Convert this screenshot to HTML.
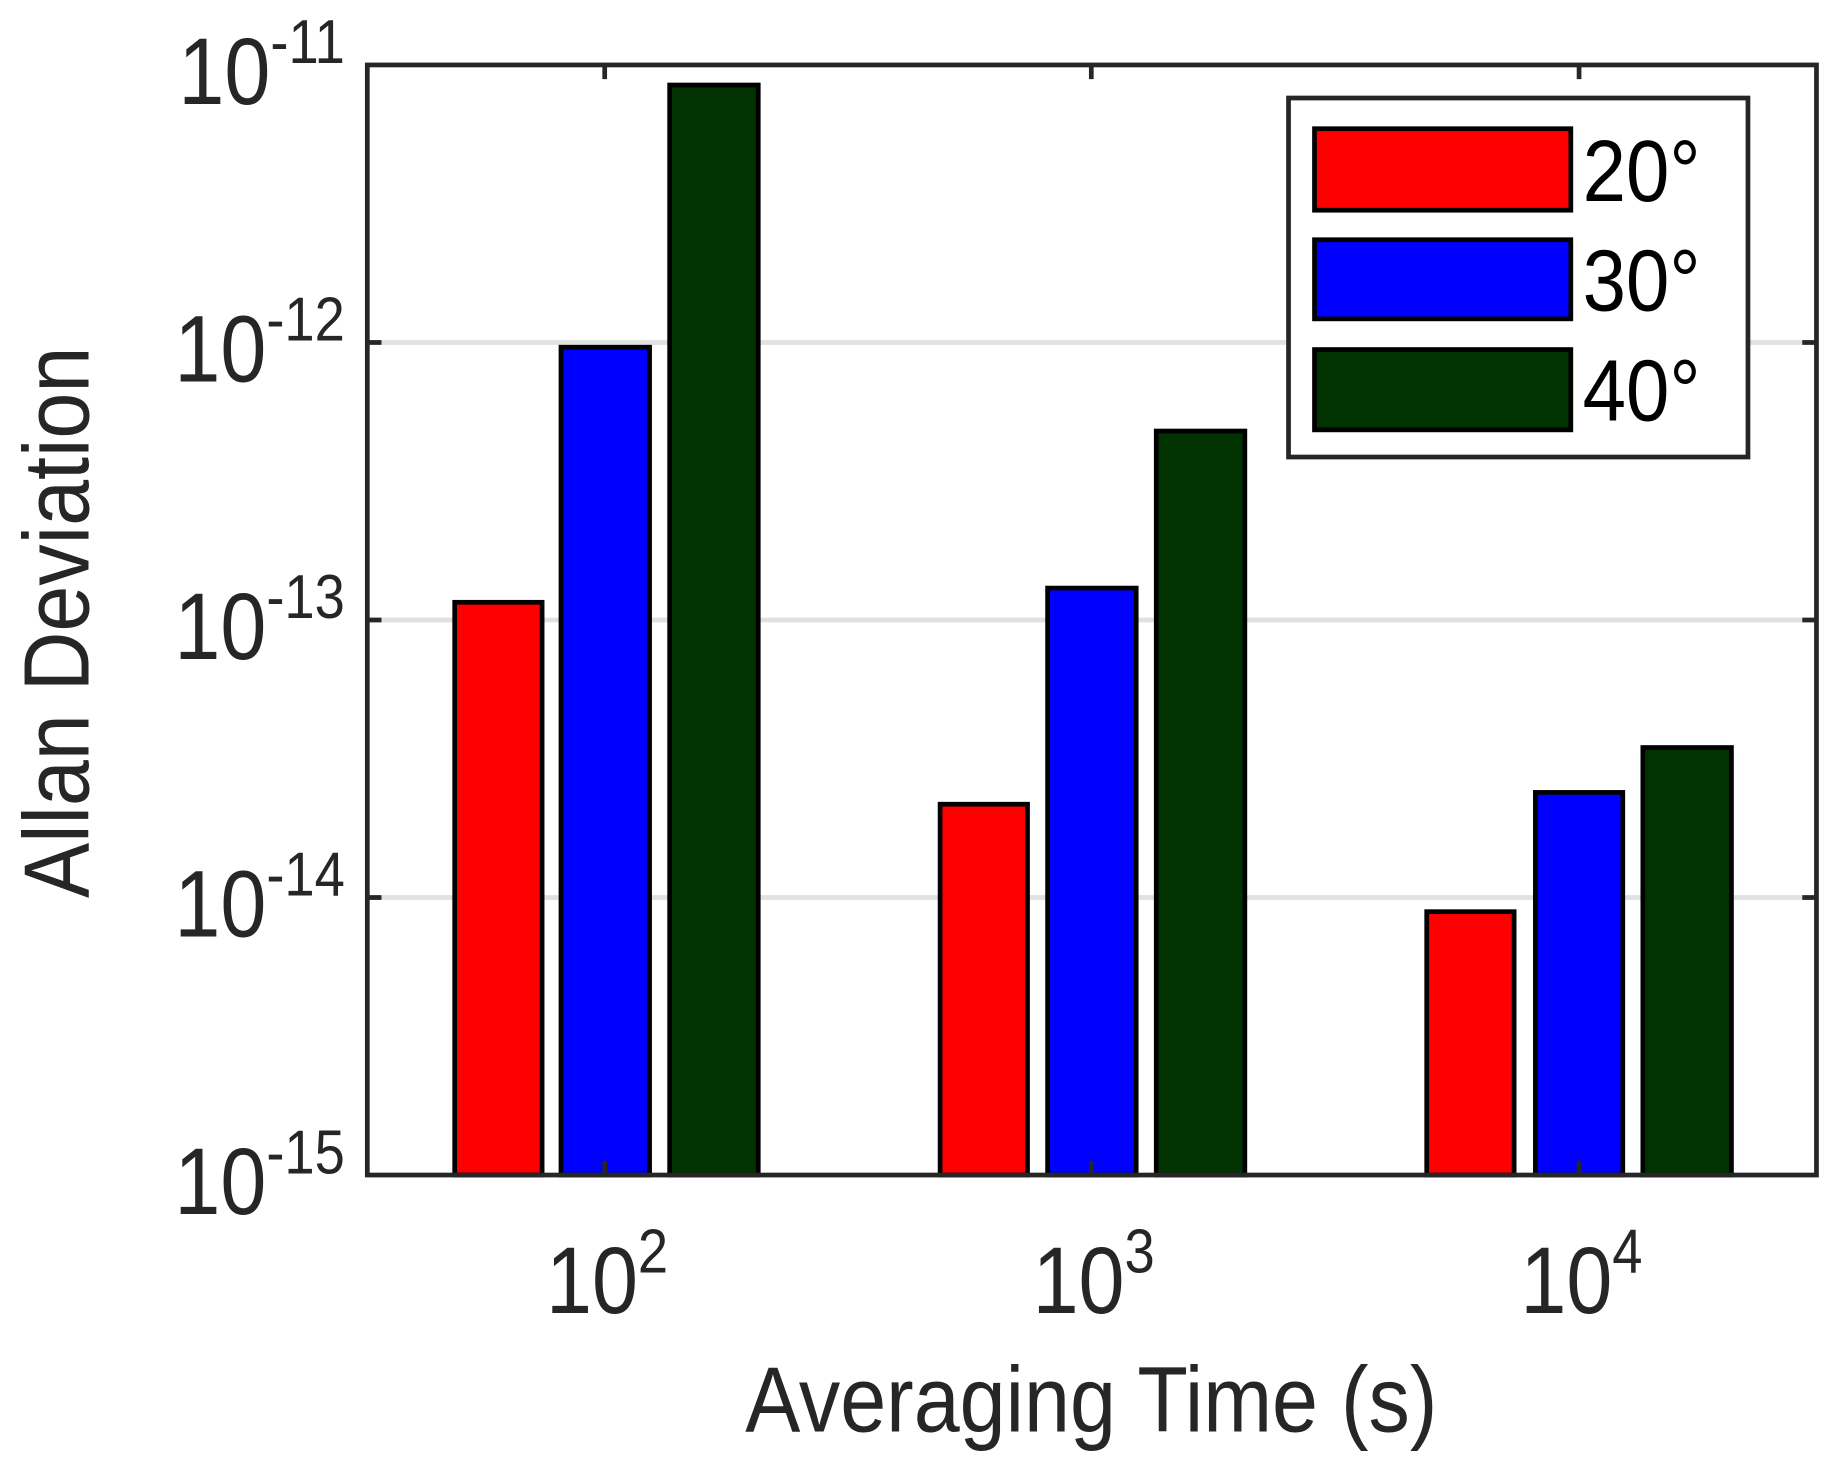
<!DOCTYPE html>
<html><head><style>html,body{margin:0;padding:0;background:#fff}svg{display:block}</style></head>
<body>
<svg width="1833" height="1462" viewBox="0 0 1552 1238" preserveAspectRatio="none" xmlns="http://www.w3.org/2000/svg" font-family="Liberation Sans, Arial, sans-serif" fill="#262626">
<rect width="1552" height="1238" fill="#fff"/>
<g stroke="#e0e0e0" stroke-width="4">
<line x1="311" y1="290" x2="1538" y2="290"/>
<line x1="311" y1="525" x2="1538" y2="525"/>
<line x1="311" y1="760" x2="1538" y2="760"/>
</g>
<g stroke="#000" stroke-width="4">
<rect x="385" y="510" width="74" height="485" fill="#ff0000"/>
<rect x="475" y="294" width="75" height="701" fill="#0000ff"/>
<rect x="567" y="72" width="75" height="923" fill="#003300"/>
<rect x="796" y="681" width="74" height="314" fill="#ff0000"/>
<rect x="887" y="498" width="75" height="497" fill="#0000ff"/>
<rect x="979" y="365" width="75" height="630" fill="#003300"/>
<rect x="1208" y="772" width="74" height="223" fill="#ff0000"/>
<rect x="1300" y="671" width="74" height="324" fill="#0000ff"/>
<rect x="1391" y="633" width="75" height="362" fill="#003300"/>
</g>
<rect x="311" y="55" width="1227" height="940" fill="none" stroke="#262626" stroke-width="4"/>
<g stroke="#262626" stroke-width="4">
<line x1="311" y1="290" x2="323" y2="290"/><line x1="1538" y1="290" x2="1526" y2="290"/>
<line x1="311" y1="525" x2="323" y2="525"/><line x1="1538" y1="525" x2="1526" y2="525"/>
<line x1="311" y1="760" x2="323" y2="760"/><line x1="1538" y1="760" x2="1526" y2="760"/>
<line x1="512" y1="995" x2="512" y2="983"/><line x1="512" y1="55" x2="512" y2="67"/>
<line x1="924" y1="995" x2="924" y2="983"/><line x1="924" y1="55" x2="924" y2="67"/>
<line x1="1337" y1="995" x2="1337" y2="983"/><line x1="1337" y1="55" x2="1337" y2="67"/>
</g>
<g font-size="70" text-anchor="end">
<text transform="translate(292,88) scale(1,1.15)">10<tspan font-size="46" dy="-30">-11</tspan></text>
<text transform="translate(292,323) scale(1,1.15)">10<tspan font-size="46" dy="-30">-12</tspan></text>
<text transform="translate(292,558) scale(1,1.15)">10<tspan font-size="46" dy="-30">-13</tspan></text>
<text transform="translate(292,793) scale(1,1.15)">10<tspan font-size="46" dy="-30">-14</tspan></text>
<text transform="translate(292,1028) scale(1,1.15)">10<tspan font-size="46" dy="-30">-15</tspan></text>
</g>
<g font-size="70" text-anchor="middle">
<text transform="translate(514,1112) scale(1,1.15)">10<tspan font-size="46" dy="-30">2</tspan></text>
<text transform="translate(926,1112) scale(1,1.15)">10<tspan font-size="46" dy="-30">3</tspan></text>
<text transform="translate(1339,1112) scale(1,1.15)">10<tspan font-size="46" dy="-30">4</tspan></text>
<text transform="translate(924,1212) scale(1,1.12)" font-size="70">Averaging Time (s)</text>
<text transform="translate(75,527) rotate(-90) scale(1,1.12)" font-size="70">Allan Deviation</text>
</g>
<rect x="1091" y="83" width="389" height="304" fill="#fff" stroke="#262626" stroke-width="4"/>
<g stroke="#000" stroke-width="4">
<rect x="1113" y="109" width="217" height="69" fill="#ff0000"/>
<rect x="1113" y="203" width="217" height="67" fill="#0000ff"/>
<rect x="1113" y="296" width="217" height="68" fill="#003300"/>
</g>
<g font-size="66" fill="#000">
<text transform="translate(1340,170) scale(1,1.12)">20°</text>
<text transform="translate(1340,263) scale(1,1.12)">30°</text>
<text transform="translate(1340,356) scale(1,1.12)">40°</text>
</g>
</svg>
</body></html>
